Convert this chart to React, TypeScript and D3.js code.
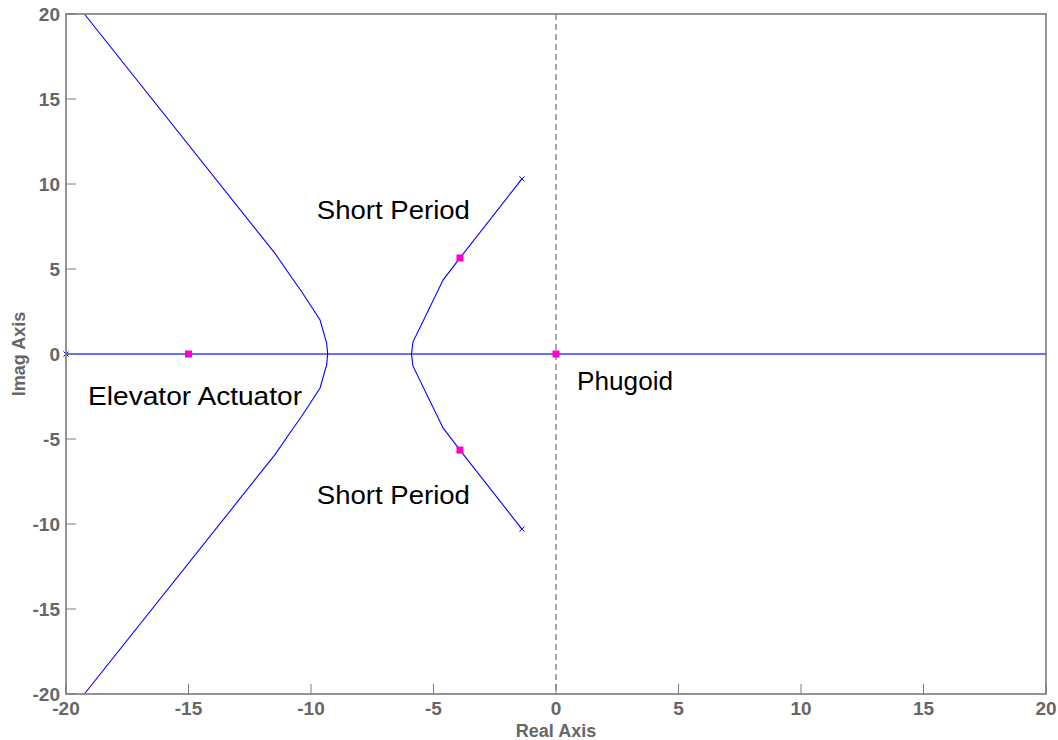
import React from "react";
import * as d3 from "d3";

const xTicks = [-20, -15, -10, -5, 0, 5, 10, 15, 20];
const yTicks = [-20, -15, -10, -5, 0, 5, 10, 15, 20];

// Elevator actuator branch (upper half; lower half mirrored)
const elevatorX = [-19.25, -11.47, -10.72, -10.38, -9.63, -9.36, -9.32];
const elevatorY = [20, 5.92, 4.35, 3.66, 2.0, 0.63, 0.0];

// Short period branch (upper half; lower half mirrored)
const shortX = [-1.39, -3.92, -4.61, -5.84, -5.9];
const shortY = [10.3, 5.65, 4.35, 0.7, 0.0];

// Real-axis locus
const realAxisX = [-20, 20];

// Open-loop poles (x markers)
const poleX = [-1.39, -1.39, -20];
const poleY = [10.3, -10.3, 0];

// Closed-loop poles for chosen gain (magenta squares)
const gainX = [-15, 0, -3.92, -3.92];
const gainY = [0, 0, 5.65, -5.65];

const labels = [
  { text: "Short Period", x: -9.76, y: 7.94, len: 153 },
  { text: "Short Period", x: -9.76, y: -8.82, len: 153 },
  { text: "Elevator Actuator", x: -19.1, y: -3.0, len: 214 },
  { text: "Phugoid", x: 0.86, y: -2.12, len: 96 },
];

export default function App() {
  const W = 1058, H = 740;
  const left = 66, right = 1046, top = 14, bottom = 694;
  const x = d3.scaleLinear().domain([-20, 20]).range([left, right]);
  const y = d3.scaleLinear().domain([-20, 20]).range([bottom, top]);
  const line = d3.line<[number, number]>().x(d => x(d[0])).y(d => y(d[1]));

  const upper = (xs: number[], ys: number[]) => xs.map((v, i) => [v, ys[i]] as [number, number]);
  const lower = (xs: number[], ys: number[]) => xs.map((v, i) => [v, -ys[i]] as [number, number]);

  const branches = [
    upper(elevatorX, elevatorY),
    lower(elevatorX, elevatorY),
    upper(shortX, shortY),
    lower(shortX, shortY),
  ];
  const realLine: [number, number][] = realAxisX.map(v => [v, 0]);

  const gray = "#666";
  const font = "'Liberation Sans', Arial, Helvetica, sans-serif";

  return (
    <svg width={W} height={H} style={{ position: "absolute", left: 0, top: 0, background: "#fff" }}>
      <rect x={0} y={0} width={W} height={H} fill="#fff" />
      {/* dashed imaginary axis */}
      <line x1={x(0)} x2={x(0)} y1={top} y2={bottom} stroke="#555" strokeWidth={1} strokeDasharray="6,4" />
      {/* loci */}
      <path d={line(realLine) || ""} fill="none" stroke="#3b3bff" strokeWidth={1.6} />
      {branches.map((b, i) => (
        <path key={i} d={line(b) || ""} fill="none" stroke="#0000ff" strokeWidth={1.1} />
      ))}
      {/* poles */}
      {poleX.map((px, i) => {
        const cx = x(px), cy = y(poleY[i]);
        const s = 2.5;
        return (
          <g key={"p" + i} stroke="#0000ff" strokeWidth={1}>
            <line x1={cx - s} x2={cx + s} y1={cy - s} y2={cy + s} />
            <line x1={cx - s} x2={cx + s} y1={cy + s} y2={cy - s} />
          </g>
        );
      })}
      {gainX.map((gx, i) => (
        <rect key={"g" + i} x={x(gx) - 3.5} y={y(gainY[i]) - 3.5} width={7} height={7} fill="#ff00cc" />
      ))}
      {/* frame */}
      <rect x={left} y={top} width={right - left} height={bottom - top} fill="none" stroke="#7a7a7a" strokeWidth={1.6} />
      {/* ticks */}
      {xTicks.map(t => (
        <g key={"xt" + t}>
          <line x1={x(t)} x2={x(t)} y1={bottom} y2={bottom - 10} stroke="#7a7a7a" strokeWidth={1} />
          <text x={x(t)} y={715} textAnchor="middle" fontFamily={font} fontWeight="bold" fontSize={19} fill={gray}>
            {t}
          </text>
        </g>
      ))}
      {yTicks.map(t => (
        <g key={"yt" + t}>
          <line x1={left} x2={left + 10} y1={y(t)} y2={y(t)} stroke="#7a7a7a" strokeWidth={1} />
          <text x={60} y={y(t) + 7} textAnchor="end" fontFamily={font} fontWeight="bold" fontSize={19} fill={gray}>
            {t}
          </text>
        </g>
      ))}
      <text x={(left + right) / 2} y={737} textAnchor="middle" fontFamily={font} fontWeight="bold" fontSize={18} fill={gray}>
        Real Axis
      </text>
      <text
        transform={`translate(25, ${(top + bottom) / 2}) rotate(-90)`}
        textAnchor="middle"
        fontFamily={font}
        fontWeight="bold"
        fontSize={18}
        fill={gray}
      >
        Imag Axis
      </text>
      {labels.map((l, i) => (
        <text
          key={"l" + i}
          x={x(l.x)}
          y={y(l.y)}
          fontFamily={font}
          fontSize={26.5}
          fill="#000"
          textLength={l.len}
          lengthAdjust="spacingAndGlyphs"
        >
          {l.text}
        </text>
      ))}
    </svg>
  );
}
